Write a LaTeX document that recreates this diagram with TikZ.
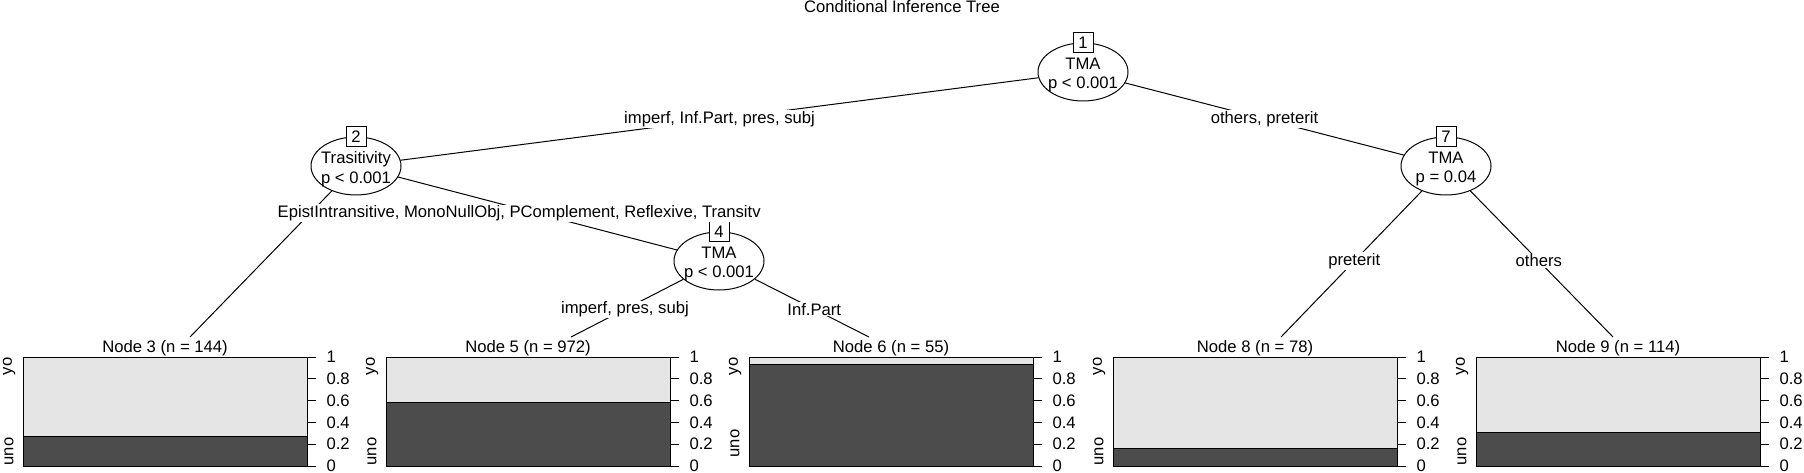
\documentclass[tikz,border=0pt]{standalone}
\usepackage{fontspec}
\setmainfont{Liberation Sans}
\usetikzlibrary{shapes.geometric}
\definecolor{claro}{gray}{0.9}
\definecolor{oscuro}{gray}{0.3}

\begin{document}
\begin{tikzpicture}[x=1pt, y=-1pt, line width=1pt,
    font=\fontsize{16.65}{19.5}\selectfont,
    nodo/.style={ellipse, draw, fill=white, minimum width=90, minimum height=58, inner sep=0pt},
    ntxt/.style={align=center, yshift=-3pt},
    idbox/.style={draw, fill=white, minimum size=20, inner sep=0pt},
    elab/.style={fill=white, inner sep=1pt}]
    \useasboundingbox (0,0) rectangle (1804,473);

    % Titulo
    \node[anchor=base] (tit) at (902,13) {Conditional Inference Tree};

    % Nodos internos
    \node[nodo, label={[name=n1t, ntxt]center:TMA\\p < 0.001}] (n1) at (1083,72) {};
    \node[nodo, label={[name=n2t, ntxt]center:Trasitivity\\p < 0.001}] (n2) at (356,166) {};
    \node[nodo, label={[name=n4t, ntxt]center:TMA\\p < 0.001}] (n4) at (719,261) {};
    \node[nodo, label={[name=n7t, ntxt]center:TMA\\p = 0.04}] (n7) at (1446,166) {};
    \node[idbox] (b1) at (n1.north) {1};
    \node[idbox] (b2) at (n2.north) {2};
    \node[idbox] (b4) at (n4.north) {4};
    \node[idbox] (b7) at (n7.north) {7};

    % Extremos de las hojas
    \coordinate (t3) at (190,337);
    \coordinate (t5) at (571,337);
    \coordinate (t6) at (869,337);
    \coordinate (t8) at (1281,337);
    \coordinate (t9) at (1613,337);

    % Ramas
    \draw (n1) -- node[elab] (e12) {imperf, Inf.Part, pres, subj} (n2);
    \draw (n1) -- node[elab] (e17) {others, preterit} (n7);
    \draw (n2) -- node[elab, pos=0.152, anchor=west, xshift=-34] (e23) {Episte} (t3);
    \draw (n2) -- node[elab] (e24) {Intransitive, MonoNullObj, PComplement, Reflexive, Transitv} (n4);
    \draw (n4) -- node[elab, pos=0.52] (e45) {imperf, pres, subj} (t5);
    \draw (n4) -- node[elab, pos=0.52] (e46) {Inf.Part} (t6);
    \draw (n7) -- node[elab, pos=0.48] (e78) {preterit} (t8);
    \draw (n7) -- node[elab, pos=0.48] (e79) {others} (t9);

    % Hojas (barras apiladas)
    \foreach \k/\izq/\prop/\n/\uno in {3/23/0.27/144/466, 5/386/0.58/972/466,
        6/749/0.935/55/458, 8/1113/0.165/78/466, 9/1476/0.31/114/466} {
        \pgfmathsetmacro{\xd}{\izq+284}
        \pgfmathsetmacro{\xm}{\izq+142}
        \pgfmathsetmacro{\corte}{466-109*\prop}
        \fill[claro] (\izq,357) rectangle (\xd,466);
        \fill[oscuro] (\izq,\corte) rectangle (\xd,466);
        \draw (\izq,\corte) -- (\xd,\corte);
        \draw (\izq,357) rectangle (\xd,466);
        \node[anchor=base] (p\k) at (\xm,352) {Node \k{} (n = \n)};
        \node[rotate=90, anchor=east, inner sep=0pt] (yo\k) at (\izq-14,357) {yo};
        \node[rotate=90, anchor=west, inner sep=0pt] (uno\k) at (\izq-14,\uno) {uno};
        % Eje derecho
        \foreach \v [count=\i] in {0,0.2,0.4,0.6,0.8,1} {
            \pgfmathsetmacro{\ty}{466-109*\v}
            \draw (\xd,\ty) -- ++(9,0);
            \node[anchor=west, inner sep=0pt] (a\k-\i) at (\xd+19,\ty) {\v};
        }
    }
\end{tikzpicture}
\end{document}
